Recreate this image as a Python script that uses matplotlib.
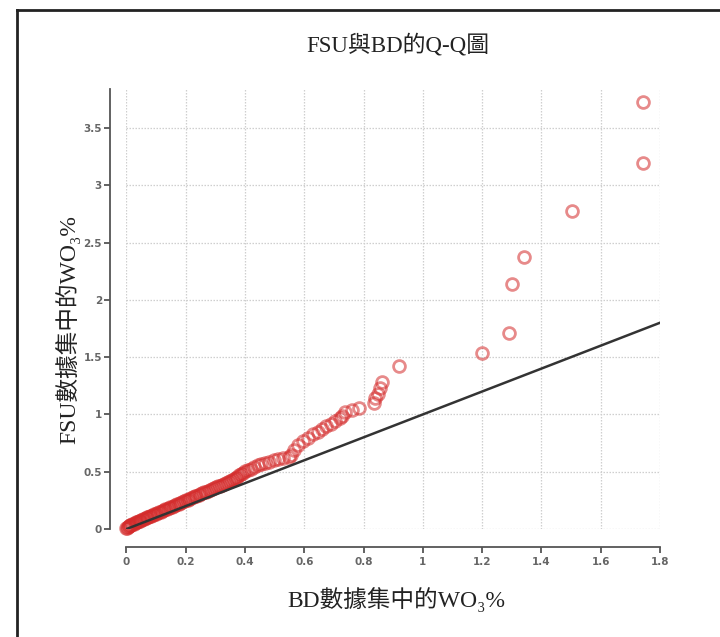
import matplotlib
matplotlib.use('Agg')
import matplotlib.pyplot as plt
from matplotlib.lines import Line2D

# quantiles
bd_q = [0.000, 0.002, 0.004, 0.007, 0.010, 0.013, 0.016, 0.020, 0.024, 0.028,
        0.032, 0.036, 0.041, 0.046, 0.050, 0.055, 0.060, 0.065, 0.070, 0.074,
        0.079, 0.084, 0.089, 0.094, 0.099, 0.104, 0.110, 0.115, 0.120, 0.126,
        0.131, 0.137, 0.142, 0.148, 0.153, 0.159, 0.164, 0.170, 0.176, 0.182,
        0.188, 0.194, 0.200, 0.206, 0.212, 0.218, 0.224, 0.230, 0.236, 0.243,
        0.249, 0.256, 0.262, 0.268, 0.275, 0.281, 0.288, 0.294, 0.301, 0.308,
        0.314, 0.321, 0.328, 0.335, 0.342, 0.349, 0.356, 0.362, 0.368, 0.374,
        0.380, 0.386, 0.393, 0.400, 0.410, 0.420, 0.430, 0.442, 0.453, 0.466,
        0.480, 0.497, 0.510, 0.527, 0.548, 0.555, 0.566, 0.580, 0.596, 0.612,
        0.630, 0.645, 0.660, 0.672, 0.690, 0.705, 0.720, 0.727, 0.737, 0.760,
        0.786, 0.836, 0.840, 0.850, 0.855, 0.862, 0.920, 1.200, 1.292, 1.302,
        1.340, 1.502, 1.742, 1.742]
fsu_q = [0.005, 0.010, 0.015, 0.022, 0.027, 0.032, 0.038, 0.043, 0.048, 0.053,
         0.058, 0.063, 0.068, 0.074, 0.080, 0.085, 0.091, 0.096, 0.101, 0.106,
         0.111, 0.117, 0.122, 0.128, 0.134, 0.140, 0.146, 0.152, 0.158, 0.164,
         0.171, 0.177, 0.183, 0.190, 0.196, 0.203, 0.209, 0.215, 0.222, 0.229,
         0.236, 0.243, 0.250, 0.256, 0.263, 0.270, 0.277, 0.284, 0.290, 0.298,
         0.305, 0.313, 0.320, 0.327, 0.334, 0.341, 0.349, 0.356, 0.364, 0.372,
         0.379, 0.387, 0.395, 0.403, 0.411, 0.420, 0.429, 0.438, 0.447, 0.457,
         0.468, 0.480, 0.492, 0.503, 0.515, 0.525, 0.537, 0.558, 0.566, 0.575,
         0.585, 0.600, 0.612, 0.622, 0.632, 0.648, 0.690, 0.730, 0.770, 0.795,
         0.825, 0.850, 0.870, 0.895, 0.920, 0.945, 0.970, 0.990, 1.025, 1.040,
         1.055, 1.100, 1.140, 1.180, 1.230, 1.285, 1.420, 1.538, 1.712, 2.137,
         2.372, 2.771, 3.197, 3.727]
ref_x = [0, 1.8]
ref_y = [0, 1.8]
x_ticks = [0, 0.2, 0.4, 0.6, 0.8, 1, 1.2, 1.4, 1.6, 1.8]
x_labels = ['0', '0.2', '0.4', '0.6', '0.8', '1', '1.2', '1.4', '1.6', '1.8']
y_ticks = [0, 0.5, 1, 1.5, 2, 2.5, 3, 3.5]
y_labels = ['0', '0.5', '1', '1.5', '2', '2.5', '3', '3.5']

serif = ['Liberation Serif', 'Noto Sans CJK TC', 'DejaVu Serif']

fig = plt.figure(figsize=(7.2, 6.37), dpi=100)
ax = fig.add_axes([126.5/720, 1 - 529/637, (660 - 126.5)/720, (529 - 89)/637])

ax.plot(bd_q, fsu_q, 'o', ms=8.5, mfc='none', mec=(0.83, 0.17, 0.17, 0.55),
        mew=2, clip_on=False, zorder=3)
ax.plot(ref_x, ref_y, color='#333333', lw=1.8, zorder=4)

ax.set_xlim(0, 1.8)
ax.set_ylim(0, 3.84)
ax.set_xticks(x_ticks)
ax.set_xticklabels(x_labels)
ax.set_yticks(y_ticks)
ax.set_yticklabels(y_labels)
ax.grid(True, color='#cfcfcf', lw=0.9, linestyle=(0, (1.2, 1.2)))
ax.set_axisbelow(True)

for s in ['top', 'right']:
    ax.spines[s].set_visible(False)
ax.spines['left'].set_position(('outward', 11.9))
ax.spines['left'].set_bounds(0, 3.84)
ax.spines['bottom'].set_position(('outward', 13))
ax.spines['bottom'].set_bounds(0, 1.8)
for s in ['left', 'bottom']:
    ax.spines[s].set_color('#555555')
    ax.spines[s].set_linewidth(1.3)
ax.tick_params(axis='both', length=4.3, width=1.3, color='#555555',
               labelcolor='#666666', labelsize=7.5)
ax.tick_params(axis='y', pad=1.5)
ax.tick_params(axis='x', pad=3)
for lab in ax.get_xticklabels() + ax.get_yticklabels():
    lab.set_fontweight('bold')

fig.text(0.553, 1 - 45/637, 'FSU與BD的Q-Q圖', ha='center', va='center',
         fontsize=16.5, family=serif, color='#222222')
fig.text(0.55, 1 - 600/637, 'BD數據集中的WO₃%', ha='center', va='center',
         fontsize=17, family=serif, color='#222222')
fig.text(68/720, 1 - 330/637, 'FSU數據集中的WO₃%', ha='center', va='center',
         rotation=90, fontsize=17, family=serif, color='#222222')

# outer frame, only top and left edges are visible in the picture
fig.add_artist(Line2D([17/720, 17/720], [-0.1, 1 - 10/637], color='#222222', lw=2))
fig.add_artist(Line2D([17/720, 1.1], [1 - 10/637, 1 - 10/637], color='#222222', lw=2))

fig.savefig('out.png', dpi=100)
